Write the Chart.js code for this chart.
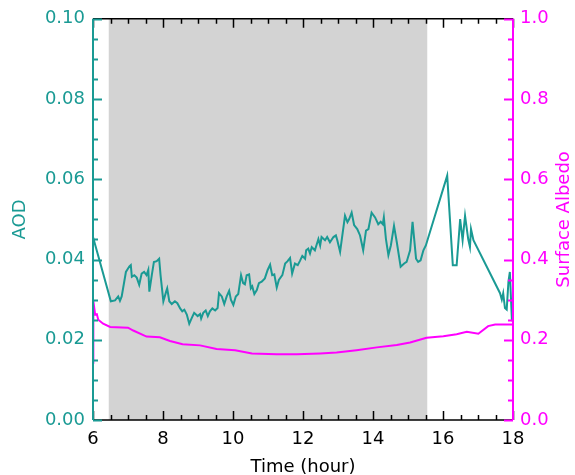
<!DOCTYPE html>
<html>
<head>
<meta charset="utf-8">
<script src="https://cdn.jsdelivr.net/npm/chart.js@4"></script>
<style>
  html, body { margin: 0; padding: 0; background: #fff; }
  #wrap { width: 575px; height: 475px; }
</style>
</head>
<body>
<div id="wrap"><canvas id="grafico" width="575" height="475"></canvas></div>
<script>
// Dados
const aodTime = [6.00, 6.51, 6.63, 6.72, 6.77, 6.82, 6.94, 7.04, 7.08, 7.11, 7.18, 7.25, 7.32, 7.39, 7.46, 7.53, 7.58, 7.61, 7.68, 7.74,
  7.82, 7.89, 7.93, 8.01, 8.09, 8.12, 8.18, 8.25, 8.34, 8.41, 8.49, 8.55, 8.61, 8.68, 8.75, 8.82, 8.89, 8.99, 9.06, 9.09,
  9.15, 9.22, 9.28, 9.34, 9.41, 9.49, 9.56, 9.60, 9.68, 9.75, 9.82, 9.89, 9.94, 10.01, 10.08, 10.15, 10.23, 10.29, 10.34, 10.39,
  10.46, 10.51, 10.55, 10.61, 10.68, 10.74, 10.82, 10.91, 10.99, 11.06, 11.12, 11.18, 11.25, 11.31, 11.41, 11.49, 11.56, 11.63, 11.69, 11.77,
  11.85, 11.91, 11.98, 12.06, 12.09, 12.15, 12.20, 12.25, 12.34, 12.44, 12.49, 12.53, 12.63, 12.69, 12.77, 12.87, 12.94, 12.98, 13.06, 13.20,
  13.27, 13.32, 13.39, 13.46, 13.55, 13.63, 13.72, 13.80, 13.87, 13.96, 14.06, 14.15, 14.22, 14.28, 14.31, 14.37, 14.44, 14.51, 14.60, 14.68,
  14.79, 14.89, 14.96, 15.06, 15.13, 15.23, 15.29, 15.36, 15.44, 15.51, 16.12, 16.28, 16.39, 16.49, 16.56, 16.63, 16.72, 16.77, 16.80, 16.87,
  17.63, 17.68, 17.72, 17.77, 17.82, 17.87, 17.91, 17.97];
const aodValue = [0.0456, 0.0296, 0.0298, 0.0308, 0.0297, 0.0308, 0.0369, 0.0383, 0.0386, 0.0357, 0.0361, 0.0355, 0.0337, 0.0365, 0.0369, 0.0361, 0.0374, 0.0320, 0.0361, 0.0394,
  0.0396, 0.0402, 0.0361, 0.0296, 0.0320, 0.0328, 0.0296, 0.0289, 0.0296, 0.0291, 0.0278, 0.0271, 0.0275, 0.0263, 0.0240, 0.0254, 0.0267, 0.0259, 0.0264, 0.0253,
  0.0267, 0.0273, 0.0259, 0.0271, 0.0278, 0.0273, 0.0279, 0.0316, 0.0308, 0.0289, 0.0308, 0.0322, 0.0300, 0.0287, 0.0308, 0.0314, 0.0361, 0.0341, 0.0338, 0.0361,
  0.0363, 0.0328, 0.0333, 0.0314, 0.0324, 0.0341, 0.0345, 0.0353, 0.0374, 0.0387, 0.0361, 0.0363, 0.0330, 0.0349, 0.0361, 0.0390, 0.0396, 0.0404, 0.0365, 0.0390,
  0.0386, 0.0396, 0.0409, 0.0402, 0.0423, 0.0427, 0.0415, 0.0431, 0.0423, 0.0451, 0.0435, 0.0456, 0.0448, 0.0456, 0.0443, 0.0456, 0.0460, 0.0448, 0.0419, 0.0509,
  0.0493, 0.0501, 0.0517, 0.0486, 0.0476, 0.0460, 0.0423, 0.0472, 0.0476, 0.0517, 0.0505, 0.0488, 0.0494, 0.0488, 0.0505, 0.0451, 0.0411, 0.0435, 0.0484, 0.0443,
  0.0382, 0.0390, 0.0394, 0.0423, 0.0494, 0.0402, 0.0394, 0.0398, 0.0423, 0.0435, 0.0609, 0.0386, 0.0386, 0.0501, 0.0448, 0.0509, 0.0451, 0.0431, 0.0476, 0.0448,
  0.0316, 0.0300, 0.0316, 0.0279, 0.0275, 0.0345, 0.0369, 0.0246];

const albedoTime = [6.00, 6.01, 6.06, 6.11, 6.15, 6.29, 6.49, 7.00, 7.15, 7.53, 7.91, 8.20, 8.56, 9.06, 9.53, 10.06, 10.54, 11.25, 11.82, 12.49,
  12.96, 13.53, 14.11, 14.68, 15.06, 15.53, 16.01, 16.39, 16.68, 17.01, 17.29, 17.49, 18.00];
const albedoValue = [0.143, 0.296, 0.263, 0.264, 0.250, 0.240, 0.232, 0.230, 0.223, 0.208, 0.206, 0.197, 0.189, 0.186, 0.177, 0.174, 0.166, 0.164, 0.164, 0.166,
  0.168, 0.174, 0.181, 0.187, 0.193, 0.205, 0.209, 0.214, 0.220, 0.215, 0.234, 0.238, 0.238];

// Faixa cinza (horas)
const faixaInicio = 6.45;
const faixaFim = 15.55;

const TEAL = '#1a9a94';
const MAGENTA = '#ff00ff';
const FONTE = 'DejaVu Sans';

// Faixa sombreada atrás das linhas
const faixaPlugin = {
  id: 'faixa',
  beforeDatasetsDraw(chart) {
    const { ctx, chartArea, scales } = chart;
    const x0 = scales.x.getPixelForValue(faixaInicio);
    const x1 = scales.x.getPixelForValue(faixaFim);
    ctx.save();
    ctx.fillStyle = '#d3d3d3';
    ctx.fillRect(x0, chartArea.top, x1 - x0, chartArea.bottom - chartArea.top);
    ctx.restore();
  }
};

// Eixos com ticks para dentro, estilo IDL
const eixosPlugin = {
  id: 'eixos',
  afterDraw(chart) {
    const { ctx, chartArea: a, scales } = chart;
    ctx.save();
    ctx.lineWidth = 1.5;

    // ticks x (baixo e topo)
    ctx.strokeStyle = '#000';
    ctx.beginPath();
    for (let i = 0; i <= 24; i++) {
      const v = 6 + i * 0.5;
      const px = Math.round(scales.x.getPixelForValue(v)) + 0.5;
      const len = (i % 4 === 0) ? 9 : 5;
      ctx.moveTo(px, a.bottom); ctx.lineTo(px, a.bottom - len);
      ctx.moveTo(px, a.top); ctx.lineTo(px, a.top + len);
    }
    ctx.moveTo(a.left, a.bottom); ctx.lineTo(a.right, a.bottom);
    ctx.moveTo(a.left, a.top); ctx.lineTo(a.right, a.top);
    ctx.stroke();

    // eixo esquerdo AOD
    ctx.strokeStyle = TEAL;
    ctx.lineWidth = 2;
    ctx.beginPath();
    for (let i = 0; i <= 20; i++) {
      const py = Math.round(scales.y.getPixelForValue(i * 0.005)) + 0.5;
      const len = (i % 4 === 0) ? 9 : 5;
      ctx.moveTo(a.left, py); ctx.lineTo(a.left + len, py);
    }
    ctx.moveTo(a.left, a.top); ctx.lineTo(a.left, a.bottom);
    ctx.stroke();

    // eixo direito albedo
    ctx.strokeStyle = MAGENTA;
    ctx.beginPath();
    for (let i = 0; i <= 20; i++) {
      const py = Math.round(scales.y1.getPixelForValue(i * 0.05)) + 0.5;
      const len = (i % 4 === 0) ? 9 : 5;
      ctx.moveTo(a.right, py); ctx.lineTo(a.right - len, py);
    }
    ctx.moveTo(a.right, a.top); ctx.lineTo(a.right, a.bottom);
    ctx.stroke();

    // título do eixo direito, lido de baixo para cima
    ctx.fillStyle = MAGENTA;
    ctx.font = '18px "' + FONTE + '"';
    ctx.textAlign = 'center';
    ctx.textBaseline = 'middle';
    ctx.translate(564, (a.top + a.bottom) / 2);
    ctx.rotate(-Math.PI / 2);
    ctx.fillText('Surface Albedo', 0, 0);
    ctx.restore();
  }
};

const ctx = document.getElementById('grafico').getContext('2d');
new Chart(ctx, {
  type: 'line',
  data: {
    datasets: [
      {
        label: 'AOD',
        data: aodTime.map((t, i) => ({ x: t, y: aodValue[i] })),
        borderColor: TEAL,
        borderWidth: 2,
        pointRadius: 0,
        tension: 0,
        yAxisID: 'y'
      },
      {
        label: 'Surface Albedo',
        data: albedoTime.map((t, i) => ({ x: t, y: albedoValue[i] })),
        borderColor: MAGENTA,
        borderWidth: 2,
        pointRadius: 0,
        tension: 0,
        yAxisID: 'y1'
      }
    ]
  },
  options: {
    responsive: false,
    animation: false,
    layout: { padding: { top: 14, left: 0, right: 0, bottom: 0 } },
    plugins: { legend: { display: false }, tooltip: { enabled: false } },
    scales: {
      x: {
        type: 'linear',
        min: 6, max: 18,
        ticks: { stepSize: 2, color: '#000', font: { family: FONTE, size: 18 }, padding: 9, maxRotation: 0 },
        grid: { display: false, drawTicks: false },
        border: { display: false },
        title: { display: true, text: 'Time (hour)', color: '#000', font: { family: FONTE, size: 18 }, padding: { top: 0, bottom: -3 } },
        afterFit: s => { s.height = 55; }
      },
      y: {
        position: 'left',
        min: 0, max: 0.1,
        ticks: { stepSize: 0.02, color: TEAL, font: { family: FONTE, size: 18 }, padding: 8, callback: v => v.toFixed(2) },
        grid: { display: false, drawTicks: false },
        border: { display: false },
        title: { display: true, text: 'AOD', color: TEAL, font: { family: FONTE, size: 18 }, padding: { top: 10, bottom: 0 } },
        afterFit: s => { s.width = 93; }
      },
      y1: {
        position: 'right',
        min: 0, max: 1,
        ticks: { stepSize: 0.2, color: MAGENTA, font: { family: FONTE, size: 18 }, padding: 7, callback: v => v.toFixed(1) },
        grid: { display: false, drawTicks: false },
        border: { display: false },
        afterFit: s => { s.width = 62; }
      }
    }
  },
  plugins: [faixaPlugin, eixosPlugin]
});
</script>
</body>
</html>
